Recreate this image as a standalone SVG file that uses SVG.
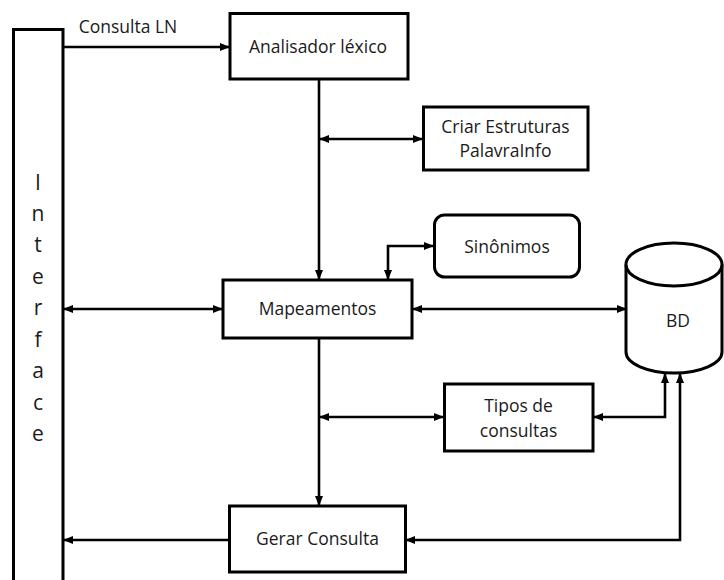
<svg xmlns="http://www.w3.org/2000/svg" width="724" height="580" viewBox="0 0 724 580">
<defs>
<marker id="ah" markerUnits="userSpaceOnUse" markerWidth="10" markerHeight="8" refX="9" refY="4" orient="auto-start-reverse">
<path d="M0,0 L10,4 L0,8 z" fill="#000"/>
</marker>
<style>
.box{fill:#fff;stroke:#000;stroke-width:3}
.t{font-family:"Open Sans","Noto Sans",sans-serif;font-size:17.5px;fill:#1a1a1a;text-anchor:middle}
.it{font-family:"Open Sans","Noto Sans",sans-serif;font-size:21px;fill:#1a1a1a;text-anchor:middle}
.c{fill:none;stroke:#000;stroke-width:2.6}
.e{marker-end:url(#ah)}
.b{marker-start:url(#ah);marker-end:url(#ah)}
</style>
</defs>
<rect width="724" height="580" fill="#fff"/>
<g id="connectors">
<path class="c e" d="M63,47 H229"/>
<path class="c e" d="M319,79 V279"/>
<path class="c b" d="M320,139 H422"/>
<path class="c b" d="M433,246 H388 V279"/>
<path class="c b" d="M64,309 H222"/>
<path class="c b" d="M413,309 H626"/>
<path class="c e" d="M319,338 V505"/>
<path class="c b" d="M320,417 H443"/>
<path class="c b" d="M594,417 H665 V374"/>
<path class="c b" d="M406,540 H680 V374"/>
<path class="c e" d="M229,540 H64"/>
</g>
<g id="interface">
<rect class="box" x="13.5" y="29.5" width="49.5" height="560"/>
<text class="it" x="38" y="190">I</text>
<text class="it" x="38" y="221">n</text>
<text class="it" x="38" y="252">t</text>
<text class="it" x="38" y="284">e</text>
<text class="it" x="38" y="315">r</text>
<text class="it" x="38" y="347">f</text>
<text class="it" x="38" y="378">a</text>
<text class="it" x="38" y="410">c</text>
<text class="it" x="38" y="441">e</text>
</g>
<g id="label-consulta">
<text class="t" x="128" y="33">Consulta LN</text>
</g>
<g id="analisador">
<rect class="box" x="230" y="13.5" width="178" height="65.5"/>
<text class="t" x="318" y="53">Analisador léxico</text>
</g>
<g id="criar">
<rect class="box" x="423.5" y="107" width="164.5" height="63"/>
<text class="t" x="505.5" y="133">Criar Estruturas</text>
<text class="t" x="505.5" y="157">PalavraInfo</text>
</g>
<g id="sinonimos">
<rect class="box" x="434.5" y="215" width="145" height="62" rx="10"/>
<text class="t" x="507" y="253">Sinônimos</text>
</g>
<g id="mapeamentos">
<rect class="box" x="223" y="280" width="189" height="58"/>
<text class="t" x="317.5" y="315">Mapeamentos</text>
</g>
<g id="bd">
<path class="box" d="M626,264.5 V352 A48,21 0 0 0 722,352 V264.5"/>
<ellipse class="box" cx="674" cy="264.5" rx="48" ry="21.5"/>
<text class="t" x="678" y="327">BD</text>
</g>
<g id="tipos">
<rect class="box" x="444.5" y="384" width="148.5" height="67"/>
<text class="t" x="518.5" y="412">Tipos de</text>
<text class="t" x="518.5" y="437">consultas</text>
</g>
<g id="gerar">
<rect class="box" x="229.5" y="506" width="176" height="66"/>
<text class="t" x="317.5" y="545">Gerar Consulta</text>
</g>
</svg>
